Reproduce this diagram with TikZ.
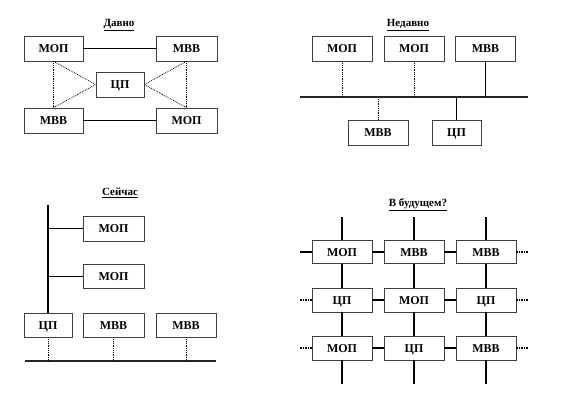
\documentclass[tikz,border=0pt]{standalone}
\usepackage{fontspec}
\setmainfont{Liberation Serif}
\begin{document}
\begin{tikzpicture}[x=1pt,y=-1pt,
  blk/.style={draw=black!75,line width=0.7pt,fill=white,minimum width=60pt,minimum height=25pt,inner sep=0pt,text height=8.2pt,text depth=0pt,font=\fontsize{12}{13}\selectfont\bfseries},
  narrow/.style={minimum width=48pt},
  ttl/.style={font=\fontsize{11}{12}\selectfont\bfseries,inner sep=0pt},
  thin/.style={line width=0.6pt},
  dots/.style={line width=0.8pt,densely dotted},
  bus/.style={line width=2pt,black!85},
  grid/.style={line width=1.5pt},
  gdots/.style={line width=1.5pt,densely dotted}]
\useasboundingbox (0,0) rectangle (564,408);
% ---------- Давно ----------
\node[ttl] (t1) at (119,25) {\underline{Давно}};
\node[blk,minimum width=59pt] (a1) at (53.5,48.5) {МОП};
\node[blk,minimum width=61pt] (a2) at (186.5,48.5) {МВВ};
\node[blk,narrow] (a3) at (120,84.5) {ЦП};
\node[blk,minimum width=59pt] (a4) at (53.5,120.5) {МВВ};
\node[blk,minimum width=61pt] (a5) at (186.5,120.5) {МОП};
\draw[thin] (a1) -- (a2);
\draw[thin] (a4) -- (a5);
\draw[dots] (a1.south) -- (a4.north);
\draw[dots] (a2.south) -- (a5.north);
\draw[dots] (a1.south) -- (a3.west);
\draw[dots] (a4.north) -- (a3.west);
\draw[dots] (a2.south) -- (a3.east);
\draw[dots] (a5.north) -- (a3.east);
% ---------- Недавно ----------
\node[ttl] (t2) at (408,25) {\underline{Недавно}};
\node[blk] (b1) at (342,48.5) {МОП};
\node[blk] (b2) at (414,48.5) {МОП};
\node[blk] (b3) at (485.5,48.5) {МВВ};
\node[blk] (b4) at (378,132.5) {МВВ};
\node[blk,minimum width=49pt] (b5) at (456.5,132.5) {ЦП};
\coordinate (bl) at (300,97);
\coordinate (br) at (528,97);
\draw[bus] (bl) -- (br);
\draw[dots] (b1.south) -- (b1.south |- bl);
\draw[dots] (b2.south) -- (b2.south |- bl);
\draw[thin] (b3.south) -- (b3.south |- bl);
\draw[dots] (b4.north) -- (b4.north |- bl);
\draw[thin] (b5.north) -- (b5.north |- bl);
% ---------- Сейчас ----------
\node[ttl] (t3) at (120,193) {\underline{Сейчас}};
\node[blk,minimum width=61pt] (c1) at (113.5,228.5) {МОП};
\node[blk,minimum width=61pt,minimum height=24pt] (c2) at (113.5,276) {МОП};
\node[blk,narrow,minimum height=24pt] (c3) at (48,325) {ЦП};
\node[blk,minimum width=61pt,minimum height=24pt] (c4) at (113.5,325) {МВВ};
\node[blk,minimum height=24pt] (c5) at (186,325) {МВВ};
\coordinate (ctop) at (48,205);
\draw[line width=2pt] (ctop) -- (c3.north);
\draw[thin] (c1.west) -- (c1.west -| ctop);
\draw[thin] (c2.west) -- (c2.west -| ctop);
\coordinate (cl) at (25,361);
\coordinate (cr) at (216,361);
\draw[bus] (cl) -- (cr);
\draw[dots] (c3.south) -- (c3.south |- cl);
\draw[dots] (c4.south) -- (c4.south |- cl);
\draw[dots] (c5.south) -- (c5.south |- cl);
% ---------- В будущем? ----------
\node[ttl] (t4) at (418,205) {\underline{В будущем?}};
\node[blk,minimum height=23pt] (d11) at (342,252) {МОП};
\node[blk,minimum height=23pt] (d12) at (414,252) {МВВ};
\node[blk,minimum height=23pt] (d13) at (486,252) {МВВ};
\node[blk,minimum height=24pt] (d21) at (342,300) {ЦП};
\node[blk,minimum height=24pt] (d22) at (414,300) {МОП};
\node[blk,minimum height=24pt] (d23) at (486,300) {ЦП};
\node[blk,minimum height=24pt] (d31) at (342,348) {МОП};
\node[blk,minimum height=24pt] (d32) at (414,348) {ЦП};
\node[blk,minimum height=24pt] (d33) at (486,348) {МВВ};
\foreach \c in {1,2,3}{
  \coordinate (top\c) at ([yshift=35pt]d1\c.center);
  \coordinate (bot\c) at ([yshift=-36pt]d3\c.center);
  \draw[grid] (top\c) -- (d1\c.north);
  \draw[grid] (d1\c.south) -- (d2\c.north);
  \draw[grid] (d2\c.south) -- (d3\c.north);
  \draw[grid] (d3\c.south) -- (bot\c);
}
\coordinate (lft1) at (300,252);
\coordinate (lft2) at (300,300);
\coordinate (lft3) at (300,348);
\coordinate (rgt1) at (528,252);
\coordinate (rgt2) at (528,300);
\coordinate (rgt3) at (528,348);
\draw[grid] (lft1) -- (d11.west);
\draw[gdots] (lft2) -- (d21.west);
\draw[gdots] (lft3) -- (d31.west);
\foreach \r in {1,2,3}{
  \draw[grid] (d\r1.east) -- (d\r2.west);
  \draw[grid] (d\r2.east) -- (d\r3.west);
  \draw[gdots] (d\r3.east) -- (rgt\r);
}
\end{tikzpicture}
\end{document}
